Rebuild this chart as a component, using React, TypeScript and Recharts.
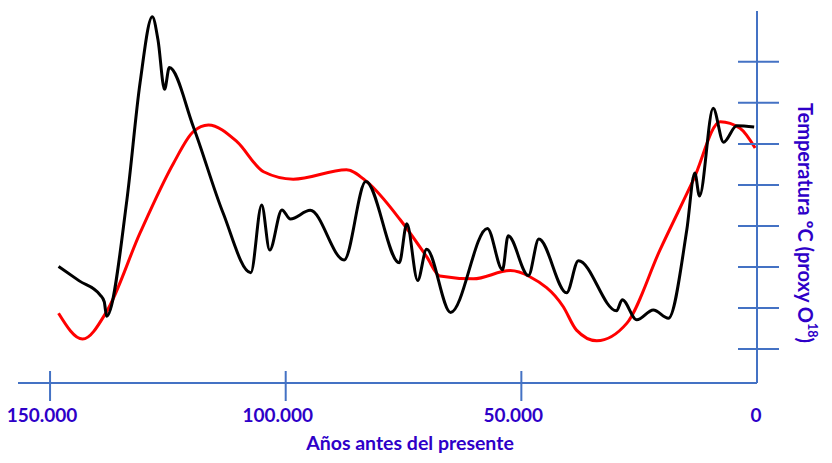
import { LineChart, Line, XAxis, YAxis, Label } from 'recharts'

// years before present (x) and temperature proxy (y)
const BLACK_YEARS = [
  148200, 143800, 139400, 138500, 138000, 133700, 130900, 128300, 127100, 125700,
  124700, 119600, 113300, 107400, 105100, 103400, 100800, 99000, 94800, 87600,
  83000, 75900, 74300, 72000, 70100, 65000, 57200, 54000, 52800, 48500,
  46300, 40400, 37900, 29800, 28600, 25500, 22000, 18800, 14900, 13200,
  12200, 9300, 7100, 4300, 600,
]
const BLACK_TEMPS = [
  3.01, 2.66, 2.32, 2.15, 1.8, 4.63, 7.49, 9.1, 8.54, 7.33,
  7.86, 6.42, 4.32, 2.86, 4.51, 3.41, 4.39, 4.17, 4.38, 3.17,
  5.08, 3.1, 4.05, 2.67, 3.43, 1.89, 3.94, 2.93, 3.76, 2.79,
  3.68, 2.37, 3.15, 1.93, 2.2, 1.71, 1.95, 1.75, 3.9, 5.29,
  4.73, 6.87, 6.04, 6.44, 6.41,
]

const RED_YEARS = [
  148200, 143100, 138000, 130900, 123800, 119600, 116400, 110400, 104700, 98400,
  87100, 82800, 75700, 70100, 67300, 60200, 52400, 48200, 41100, 38300,
  34000, 27600, 20600, 13500, 7800, 3600, 400,
]
const RED_TEMPS = [
  1.87, 1.24, 1.91, 3.83, 5.53, 6.3, 6.46, 6.06, 5.32, 5.14,
  5.37, 5.08, 4.15, 3.25, 2.78, 2.71, 2.91, 2.76, 2.03, 1.46,
  1.2, 1.63, 3.41, 5.12, 6.54, 6.38, 5.9,
]

const X_TICKS = [150000, 100000, 50000, 0]
const Y_TICKS = [1, 2, 3, 4, 5, 6, 7, 8]

const X_TITLE = 'Años antes del presente'
const Y_TITLE = 'Temperatura ºC (proxy O'
const Y_TITLE_SUP = '18'

const AXIS_COLOR = '#4472c4'
const TEXT_COLOR = '#2e00c8'
const FONT = 'Lato, sans-serif'

const PLOT_BOTTOM = 383
const PLOT_RIGHT = 757

const blackData = BLACK_YEARS.map((year, i) => ({ year, temp: BLACK_TEMPS[i] }))
const redData = RED_YEARS.map((year, i) => ({ year, temp: RED_TEMPS[i] }))

const formatYears = (v: number) =>
  v === 0 ? '0' : `${Math.floor(v / 1000)}.${String(v % 1000).padStart(3, '0')}`

function XTick({ x, payload }: any) {
  const v = payload.value as number
  return (
    <g>
      {v !== 0 && (
        <line
          x1={x}
          x2={x}
          y1={PLOT_BOTTOM - 12}
          y2={PLOT_BOTTOM + 18}
          stroke={AXIS_COLOR}
          strokeWidth={2}
        />
      )}
      <text
        x={x + (v === 0 ? -1 : -8)}
        y={422}
        textAnchor="middle"
        fontSize={19}
        fontWeight={700}
        fontFamily={FONT}
        fill={TEXT_COLOR}
      >
        {formatYears(v)}
      </text>
    </g>
  )
}

function YTick({ y }: any) {
  return (
    <line
      x1={PLOT_RIGHT - 19}
      x2={PLOT_RIGHT + 22}
      y1={y}
      y2={y}
      stroke={AXIS_COLOR}
      strokeWidth={2}
    />
  )
}

export default function App() {
  return (
    <div style={{ position: 'absolute', left: 0, top: 0, background: '#fff' }}>
      <LineChart
        width={832}
        height={463}
        margin={{ top: 11, right: 0, bottom: 0, left: 18 }}
      >
        <XAxis
          dataKey="year"
          type="number"
          domain={[0, 156800]}
          reversed
          allowDataOverflow
          ticks={X_TICKS}
          interval={0}
          height={80}
          axisLine={{ stroke: AXIS_COLOR, strokeWidth: 2 }}
          tickLine={false}
          tick={<XTick />}
        >
          <Label
            content={() => (
              <text
                x={410}
                y={450}
                textAnchor="middle"
                fontSize={19.5}
                fontWeight={700}
                fontFamily={FONT}
                fill={TEXT_COLOR}
              >
                {X_TITLE}
              </text>
            )}
          />
        </XAxis>
        <YAxis
          orientation="right"
          type="number"
          domain={[0.17, 9.24]}
          allowDataOverflow
          ticks={Y_TICKS}
          interval={0}
          width={75}
          axisLine={{ stroke: AXIS_COLOR, strokeWidth: 2 }}
          tickLine={false}
          tick={<YTick />}
        >
          <Label
            content={() => (
              <text
                transform="translate(806, 223) rotate(90)"
                textAnchor="middle"
                dominantBaseline="central"
                fontSize={20}
                fontWeight={700}
                fontFamily={FONT}
                fill={TEXT_COLOR}
              >
                {Y_TITLE}
                <tspan fontSize={12.5} dy={-7}>
                  {Y_TITLE_SUP}
                </tspan>
                <tspan dy={7}>)</tspan>
              </text>
            )}
          />
        </YAxis>
        <Line
          data={redData}
          dataKey="temp"
          type="monotone"
          stroke="#ff0000"
          strokeWidth={3}
          dot={false}
          activeDot={false}
          isAnimationActive={false}
        />
        <Line
          data={blackData}
          dataKey="temp"
          type="monotone"
          stroke="#000000"
          strokeWidth={3}
          dot={false}
          activeDot={false}
          isAnimationActive={false}
        />
      </LineChart>
    </div>
  )
}
